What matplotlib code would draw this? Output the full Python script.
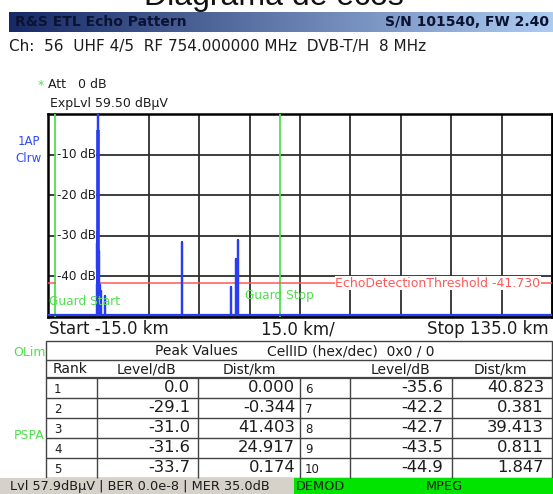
import numpy as np
import matplotlib
matplotlib.use('Agg')
from matplotlib import pyplot as plt
from matplotlib.patches import Rectangle

# Peak table (rank, level in dB, distance in km)
peak_rank = [1, 2, 3, 4, 5, 6, 7, 8, 9, 10]
peak_level = [0.0, -29.1, -31.0, -31.6, -33.7, -35.6, -42.2, -42.7, -43.5, -44.9]
peak_dist = [0.000, -0.344, 41.403, 24.917, 0.174, 40.823, 0.381, 39.413, 0.811, 1.847]

# Sweep settings
x_start, x_stop, x_div = -15.0, 135.0, 15.0
grid_levels = [-10, -20, -30, -40]
noise_floor = -49.4
threshold = -41.730
guard_start = -12.9
guard_stop = 54.0

W, H = 553, 494
BLUE = '#2b3cf5'
GREEN = '#4ee04e'
RED = '#ff5858'
TXT = '#1c1c1c'


def main():
    fig = plt.figure(figsize=(W / 100, H / 100), dpi=100)
    fig.patch.set_facecolor('white')

    # overlay in pixel coords for the instrument "screen"
    bg = fig.add_axes([0, 0, 1, 1], zorder=0)
    bg.set_xlim(0, W)
    bg.set_ylim(H, 0)
    bg.axis('off')

    # title (cut off at the top in the original screenshot)
    bg.text(274, 5, 'Diagrama de ecos', ha='center', va='baseline',
            fontsize=23, family='Liberation Sans', color='#111111')

    # header bar with gradient
    grad = np.linspace(0, 1, 256)
    c0 = np.array([0.09, 0.16, 0.40])
    c1 = np.array([0.68, 0.80, 0.95])
    img = (c0[None, :] * (1 - grad[:, None]) + c1[None, :] * grad[:, None])[None, :, :]
    bg.imshow(img, extent=(9, W, 32, 12), aspect='auto', zorder=1)
    bg.text(15, 22.5, 'R&S ETL Echo Pattern', va='center', fontsize=10,
            weight='bold', color='#0b1332', zorder=2)
    bg.text(549, 22.5, 'S/N 101540, FW 2.40', ha='right', va='center', fontsize=10,
            weight='bold', color='#0b1332', zorder=2)

    bg.text(9, 46, 'Ch:  56  UHF 4/5  RF 754.000000 MHz  DVB-T/H  8 MHz',
            va='center', fontsize=11, color=TXT)

    bg.text(38, 85, '*', va='center', fontsize=9, color=GREEN)
    bg.text(48, 84, 'Att   0 dB', va='center', fontsize=9, color=TXT)
    bg.text(50, 103, 'ExpLvl 59.50 dBµV', va='center', fontsize=9, color=TXT)

    bg.text(29, 141, '1AP', ha='center', va='center', fontsize=8.5, color='#2f4bff')
    bg.text(29, 158, 'Clrw', ha='center', va='center', fontsize=8.5, color='#2f4bff')

    # echo plot
    ax = fig.add_axes([48 / W, 1 - 317 / H, 504 / W, 203 / H], zorder=1)
    ax.set_xlim(x_start, x_stop)
    ax.set_ylim(-50, 0)
    ax.set_xticks(np.arange(x_start, x_stop + 0.1, x_div))
    ax.set_yticks([-50] + grid_levels[::-1] + [0])
    ax.tick_params(length=0, labelbottom=False, labelleft=False)
    ax.grid(True, color='#2e2e2e', lw=1.3)
    for s in ax.spines.values():
        s.set_linewidth(1.8)
        s.set_color('black')

    order = np.argsort(peak_dist)
    xs, ys = [x_start], [noise_floor]
    for i in order:
        d = peak_dist[i]
        xs += [d, d, d]
        ys += [noise_floor, peak_level[i], noise_floor]
    xs.append(x_stop)
    ys.append(noise_floor)
    ax.plot(xs, ys, color=BLUE, lw=1.6, zorder=4)
    ax.vlines(peak_dist[0], noise_floor, -4, color=BLUE, lw=2.6, zorder=4)

    ax.axvline(guard_start, color=GREEN, lw=1.3, zorder=3)
    ax.axvline(guard_stop, color=GREEN, lw=1.3, zorder=3)
    ax.axhline(threshold, color=RED, lw=1.1, zorder=3)

    for lvl in grid_levels:
        ax.text(-0.8, lvl, f'{lvl} dB', ha='right', va='center', fontsize=8.6,
                color=TXT, zorder=5,
                bbox=dict(fc='white', ec='none', pad=0.5))
    ax.text(-14.8, -46.2, 'Guard Start', va='center', fontsize=8.8, color=GREEN, zorder=5)
    ax.text(43.6, -44.7, 'Guard Stop', va='center', fontsize=8.8, color=GREEN, zorder=5)
    ax.text(101, threshold, f'EchoDetectionThreshold {threshold:.3f}', ha='center',
            va='center', fontsize=9, color=RED, zorder=5,
            bbox=dict(fc='white', ec='none', pad=0.4))

    # span line
    bg.text(49, 329, f'Start {x_start:.1f} km', va='center', fontsize=12, color=TXT)
    bg.text(298, 329, f'{x_div:.1f} km/', ha='center', va='center', fontsize=12, color=TXT)
    bg.text(549, 329, f'Stop {x_stop:.1f} km', ha='right', va='center', fontsize=12, color=TXT)

    bg.text(29, 352, 'OLim', ha='center', va='center', fontsize=9, color=GREEN)
    bg.text(29, 435, 'PSPA', ha='center', va='center', fontsize=9, color=GREEN)

    # peak table
    lc = '#444444'
    t_top, t_bot = 341, 478
    bg.add_patch(Rectangle((46, t_top), 506, t_bot - t_top, fc='white', ec=lc, lw=1.0))
    bg.hlines(360, 46, 552, color=lc, lw=1.0)
    bg.hlines(377.7, 46, 552, color=lc, lw=1.6)
    row_h = 20
    for k in range(1, 5):
        bg.hlines(377.7 + k * row_h, 46, 552, color=lc, lw=1.0)
    bg.vlines([97, 198, 300, 350, 452], 377.7, t_bot, color=lc, lw=1.0)

    bg.text(196, 351, 'Peak Values', ha='center', va='center', fontsize=10, color=TXT)
    bg.text(267, 351, 'CellID (hex/dec)  0x0 / 0', va='center', fontsize=10, color=TXT)
    bg.text(53, 369, 'Rank', va='center', fontsize=10, color=TXT)
    for cx, lab in [(147, 'Level/dB'), (249, 'Dist/km'), (400, 'Level/dB'), (500, 'Dist/km')]:
        bg.text(cx, 369, lab, ha='center', va='center', fontsize=10, color=TXT)

    for i in range(10):
        half = i // 5
        cy = 387.7 + (i % 5) * row_h
        rx, lx, dx = (54, 190, 295) if half == 0 else (305, 443, 544)
        bg.text(rx, cy + 1.5, str(peak_rank[i]), va='center', fontsize=8.5, color=TXT)
        bg.text(lx, cy, f'{peak_level[i]:.1f}', ha='right', va='center',
                fontsize=11.8, color=TXT)
        bg.text(dx, cy, f'{peak_dist[i]:.3f}', ha='right', va='center',
                fontsize=11.8, color=TXT)

    # status bar
    bg.add_patch(Rectangle((0, 478), 294, 16, fc='#d6d2ca', ec='none'))
    bg.add_patch(Rectangle((294, 478), W - 294, 16, fc='#00e400', ec='none'))
    bg.text(10, 486.5, 'Lvl 57.9dBµV | BER 0.0e-8 | MER 35.0dB', va='center',
            fontsize=9.3, color=TXT)
    bg.text(296, 486.5, 'DEMOD', va='center', fontsize=9.3, color=TXT)
    bg.text(444, 486.5, 'MPEG', ha='center', va='center', fontsize=9.3, color=TXT)

    fig.savefig('out.png', dpi=100)
    plt.close(fig)


if __name__ == '__main__':
    main()
